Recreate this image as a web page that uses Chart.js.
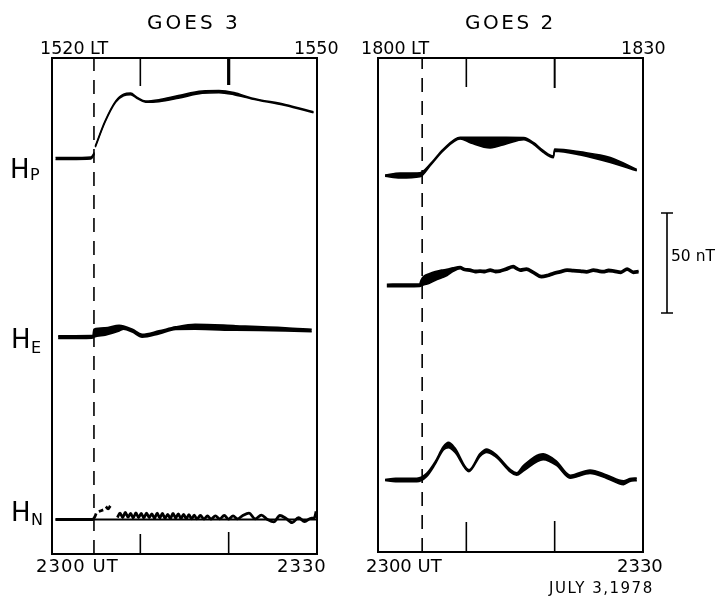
<!DOCTYPE html>
<html>
<head>
<meta charset="utf-8">
<script src="https://cdn.jsdelivr.net/npm/chart.js@4"></script>
<style>
    body { margin: 0; background: #fff; }
    #wrap { position: relative; width: 718px; height: 601px; font-family: "DejaVu Sans", sans-serif; color: #000; }
    canvas { position: absolute; left: 0; top: 0; }
    .lbl { position: absolute; line-height: 1; white-space: nowrap; }
</style>
</head>
<body>
<div id="wrap">
    <canvas id="goes3" width="718" height="601"></canvas>
    <canvas id="goes2" width="718" height="601"></canvas>

    <div class="lbl" style="left:147px; top:12px; font-size:20px; letter-spacing:3px;">GOES 3</div>
    <div class="lbl" style="left:465px; top:12px; font-size:20px; letter-spacing:2.5px;">GOES 2</div>

    <div class="lbl" style="left:40px; top:40px; font-size:17.5px;">1520 LT</div>
    <div class="lbl" style="left:294px; top:40px; font-size:17.5px;">1550</div>
    <div class="lbl" style="left:361px; top:40px; font-size:17.5px;">1800 LT</div>
    <div class="lbl" style="left:621px; top:40px; font-size:17.5px;">1830</div>

    <div class="lbl" style="left:36px; top:557px; font-size:18px; letter-spacing:1px;">2300 UT</div>
    <div class="lbl" style="left:277px; top:557px; font-size:18px; letter-spacing:1px;">2330</div>
    <div class="lbl" style="left:366px; top:557px; font-size:18px;">2300 UT</div>
    <div class="lbl" style="left:617px; top:557px; font-size:18px;">2330</div>
    <div class="lbl" style="left:549px; top:581px; font-size:15px; letter-spacing:1.5px;">JULY 3,1978</div>

    <div class="lbl" style="left:10px; top:156px; font-size:26px;">H</div>
    <div class="lbl" style="left:30px; top:167px; font-size:16px;">P</div>
    <div class="lbl" style="left:11px; top:326px; font-size:26px;">H</div>
    <div class="lbl" style="left:31px; top:340px; font-size:16px;">E</div>
    <div class="lbl" style="left:11px; top:499px; font-size:26px;">H</div>
    <div class="lbl" style="left:31px; top:512px; font-size:16px;">N</div>

    <div class="lbl" style="left:671px; top:249px; font-size:15.5px;">50 nT</div>
</div>

<script>
// time in minutes after 2300 UT, field deviations in nT from each trace's quiet level

// GOES 3
const g3HpTime = [0.4, 2, 4.4, 4.8, 4.85, 4.9, 6.0, 7.2, 8.1, 8.9, 9.6, 10.6, 12.1, 14.3, 17.0, 18.9, 20.6, 22.6, 26.4, 29.6];
const g3HpHigh = [0.5, 0.5, 0.8, 3.0, null, 6.2, 18.7, 28.7, 32.2, 32.7, 30.7, 28.7, 29.4, 31.5, 33.8, 34.0, 33.0, 30.3, 27.0, 23.4];
const g3HpLow  = [-0.5, -0.5, -0.3, 2.2, null, 5.6, 18.1, 28.1, 31.4, 31.9, 30.1, 28.1, 28.4, 30.1, 32.6, 32.9, 31.9, 29.8, 26.5, 22.9];

const g3HeTime = [0.7, 4.5, 4.65, 4.75, 6.0, 7.6, 8.1, 9.1, 10.2, 12.1, 14.0, 16.2, 20.8, 26.4, 29.4];
const g3HeHigh = [0.5, 0.7, 0.8, 3.8, 4.5, 5.8, 5.5, 3.8, 1.3, 3.0, 5.0, 6.3, 5.6, 4.6, 3.8];
const g3HeLow  = [-0.7, -0.5, -0.4, 0.0, 1.0, 3.0, 4.0, 2.5, 0.0, 1.6, 3.8, 3.9, 3.4, 3.1, 2.7];

const g3HnTime = [0.4, 4.6, 4.8, 5.0, 5.1, 5.3, 5.8, 5.9, 6.1, 6.35, 6.6, 6.7,
    7.4, 7.7, 8.0, 8.3, 8.6, 8.9, 9.2, 9.5, 9.8, 10.1, 10.4, 10.7, 11.0, 11.3, 11.6, 11.9, 12.2, 12.5,
    12.8, 13.1, 13.4, 13.7, 14.0, 14.3, 14.6, 14.9, 15.2, 15.5, 15.8, 16.1, 16.4, 16.8, 17.2, 17.6,
    18.0, 18.5, 19.0, 19.5, 20.0, 20.5, 21.0, 21.6, 22.3, 23.0, 23.7, 24.4, 25.1, 25.8, 26.5, 27.2,
    27.9, 28.6, 29.3, 29.7, 29.9];
const g3HnVals = [0, 0, 1.0, 3.0, null, 4.0, 4.8, null, 6.5, 5.3, 6.8, null,
    1.0, 3.2, 1.0, 3.5, 1.2, 3.0, 0.8, 3.3, 1.0, 3.0, 0.8, 3.2, 1.0, 2.8, 0.6, 3.2, 0.8, 3.0,
    0.6, 2.6, 0.5, 3.0, 0.8, 2.8, 0.5, 2.6, 0.4, 2.4, 0.3, 2.2, 0.3, 2.0, 0.2, 1.8,
    0.2, 1.8, 0.3, 2.0, 0.2, 1.8, 0.3, 2.0, 3.2, 0.3, 2.2, 0.0, -1.2, 2.0, 0.5, -1.6,
    0.9, -1.0, 0.6, 0.9, 4.0];
const g3HnRefTime = [0.4, 29.9];
const g3HnRefVals = [0, 0];

// GOES 2
const g2HpTime = [0.8, 2.5, 4.75, 5.9, 7.4, 9.3, 10.5, 12.7, 14.5, 16.5, 17.6, 18.7, 19.85, 20.0, 22.9, 26.3, 29.3];
const g2HpHigh = [0.2, 1.2, 1.4, 5.7, 13.2, 19.1, 19.1, 19.1, 19.1, 19.0, 16.5, 12.5, 9.7, 13.2, 11.8, 9.0, 3.0];
const g2HpLow  = [-0.4, -1.2, -0.6, 4.9, 12.4, 18.3, 16.3, 13.8, 15.8, 17.9, 15.6, 11.6, 8.9, 12.2, 10.3, 6.5, 2.4];

const g2HeTime = [1.0, 3.0, 4.75, 4.9, 5.2, 5.8, 6.5, 7.2, 7.8, 8.5, 9.3, 9.8, 10.4, 11.0, 11.55, 12.1, 12.7, 13.3, 13.8,
    14.5, 15.3, 15.7, 16.1, 16.8, 17.6, 18.5, 19.2, 19.9, 20.6, 21.4, 22.1, 22.9, 23.6, 24.4, 25.0, 25.5,
    26.1, 26.7, 27.5, 28.2, 28.9, 29.5];
const g2HeHigh = [0.5, 0.6, 0.7, 2.5, 4.5, 5.7, 6.8, 7.6, 7.9, 8.7, 9.3, 8.4, 8.1, 7.4, 7.6, 7.4, 8.1, 7.4, 7.6,
    8.6, 9.8, 8.9, 8.1, 8.6, 6.9, 4.8, 5.4, 6.5, 7.2, 8.1, 7.8, 7.6, 7.2, 8.1, 7.6, 7.3,
    7.9, 7.6, 7.0, 8.6, 7.0, 7.3];
const g2HeLow  = [-0.5, -0.4, -0.3, 0.0, 0.5, 1.3, 2.8, 4.0, 5.1, 7.2, 8.5, 7.6, 7.3, 6.6, 6.8, 6.6, 7.3, 6.6, 6.8,
    7.8, 9.0, 8.1, 7.3, 7.8, 6.1, 4.0, 4.6, 5.7, 6.4, 7.3, 7.0, 6.8, 6.4, 7.3, 6.8, 6.5,
    7.1, 6.8, 6.2, 7.8, 6.2, 6.5];

const g2HnTime = [0.8, 2.0, 4.4, 5.5, 6.45, 7.4, 7.97, 8.7, 10.3, 11.55, 12.3, 13.25, 15.7, 16.45, 18.7, 20.2, 21.75, 24.0, 25.9, 27.8, 28.5, 29.3];
const g2HnHigh = [0.2, 0.8, 0.9, 3.3, 9.0, 16.7, 18.8, 16.1, 5.1, 13.2, 15.5, 13.2, 3.6, 7.2, 13.1, 9.4, 2.4, 5.0, 2.5, -0.4, 0.7, 1.0];
const g2HnLow  = [-0.2, -0.8, -0.9, 1.7, 7.7, 15.0, 16.2, 13.9, 4.2, 11.8, 13.8, 11.8, 2.4, 4.5, 10.2, 7.3, 0.9, 3.3, 0.8, -2.3, -0.7, -0.3];

// onset of the sudden impulse, minutes after 2300 UT
const g3Onset = 4.75;
const g2Onset = 5.0;
const tickMinutes = [10, 20];
const scaleBarNT = 50;

// quiet levels of the traces on the stacked nT axis (2 px per nT)
const g3Levels = { hp: 197.75, he: 108.5, hn: 17.25 };
const g2Levels = { hp: 188.25, he: 133.25, hn: 36 };

function pts(times, vals, level) {
    return times.map((t, i) => ({ x: t, y: vals[i] == null ? null : level + vals[i] }));
}

function band(times, high, low, level, w) {
    return [
        { data: pts(times, high, level), borderColor: '#000', borderWidth: w, pointRadius: 0, fill: false, cubicInterpolationMode: 'monotone' },
        { data: pts(times, low, level), borderColor: '#000', borderWidth: w, pointRadius: 0, fill: '-1', backgroundColor: '#000', cubicInterpolationMode: 'monotone' }
    ];
}

function trace(times, vals, level, w) {
    return { data: pts(times, vals, level), borderColor: '#000', borderWidth: w, pointRadius: 0, fill: false, cubicInterpolationMode: 'monotone' };
}

function onsetLine(t, top) {
    return { data: [{ x: t, y: 0 }, { x: t, y: top }], borderColor: '#000', borderWidth: 1.6, borderDash: [14, 9], pointRadius: 0, fill: false };
}

const framePlugin = {
    id: 'frame',
    afterDatasetsDraw(chart, args, opts) {
        const ctx = chart.ctx;
        const a = chart.chartArea;
        const x = chart.scales.x;
        const y = chart.scales.y;
        ctx.save();
        ctx.strokeStyle = '#000';
        ctx.lineWidth = 2;
        ctx.strokeRect(a.left, a.top, a.right - a.left, a.bottom - a.top);

        opts.ticks.forEach(tk => {
            const px = x.getPixelForValue(tk.t);
            ctx.lineWidth = tk.topW;
            ctx.beginPath();
            ctx.moveTo(px, a.top);
            ctx.lineTo(px, a.top + tk.top);
            ctx.stroke();
            ctx.lineWidth = 1.6;
            ctx.beginPath();
            ctx.moveTo(px, a.bottom);
            ctx.lineTo(px, a.bottom - tk.bottom);
            ctx.stroke();
        });

        if (opts.scaleBar) {
            const sb = opts.scaleBar;
            const bx = a.right + sb.offset;
            const y0 = y.getPixelForValue(sb.from);
            const y1 = y.getPixelForValue(sb.from + sb.nT);
            ctx.lineWidth = 1.6;
            ctx.beginPath();
            ctx.moveTo(bx, y0);
            ctx.lineTo(bx, y1);
            ctx.moveTo(bx - 6, y0);
            ctx.lineTo(bx + 6, y0);
            ctx.moveTo(bx - 6, y1);
            ctx.lineTo(bx + 6, y1);
            ctx.stroke();
        }
        ctx.restore();
    }
};

function makeChart(id, datasets, padding, yMax, frameOpts) {
    return new Chart(document.getElementById(id), {
        type: 'line',
        data: { datasets: datasets },
        options: {
            responsive: false,
            animation: false,
            events: [],
            layout: { padding: padding },
            plugins: {
                legend: { display: false },
                tooltip: { enabled: false },
                frame: frameOpts
            },
            scales: {
                x: { type: 'linear', min: 0, max: 30, display: false },
                y: { min: 0, max: yMax, display: false }
            }
        },
        plugins: [framePlugin]
    });
}

const g3Sets = [].concat(
    band(g3HpTime, g3HpHigh, g3HpLow, g3Levels.hp, 1.5),
    band(g3HeTime, g3HeHigh, g3HeLow, g3Levels.he, 1.8),
    [trace(g3HnRefTime, g3HnRefVals, g3Levels.hn, 2.2)],
    [trace(g3HnTime, g3HnVals, g3Levels.hn, 2.8)],
    [onsetLine(g3Onset, 248)]
);

const g2Sets = [].concat(
    band(g2HpTime, g2HpHigh, g2HpLow, g2Levels.hp, 1.6),
    band(g2HeTime, g2HeHigh, g2HeLow, g2Levels.he, 2.2),
    band(g2HnTime, g2HnHigh, g2HnLow, g2Levels.hn, 1.6),
    [onsetLine(g2Onset, 247)]
);

makeChart('goes3', g3Sets, { left: 52, top: 58, right: 401, bottom: 47 }, 248, {
    ticks: [
        { t: tickMinutes[0], top: 28, bottom: 20, topW: 1.6 },
        { t: tickMinutes[1], top: 27, bottom: 22, topW: 3.2 }
    ]
});

makeChart('goes2', g2Sets, { left: 378, top: 58, right: 75, bottom: 49 }, 247, {
    ticks: [
        { t: tickMinutes[0], top: 29, bottom: 30, topW: 1.6 },
        { t: tickMinutes[1], top: 30, bottom: 31, topW: 2.0 }
    ],
    scaleBar: { offset: 24, from: 119.5, nT: scaleBarNT }
});
</script>
</body>
</html>
